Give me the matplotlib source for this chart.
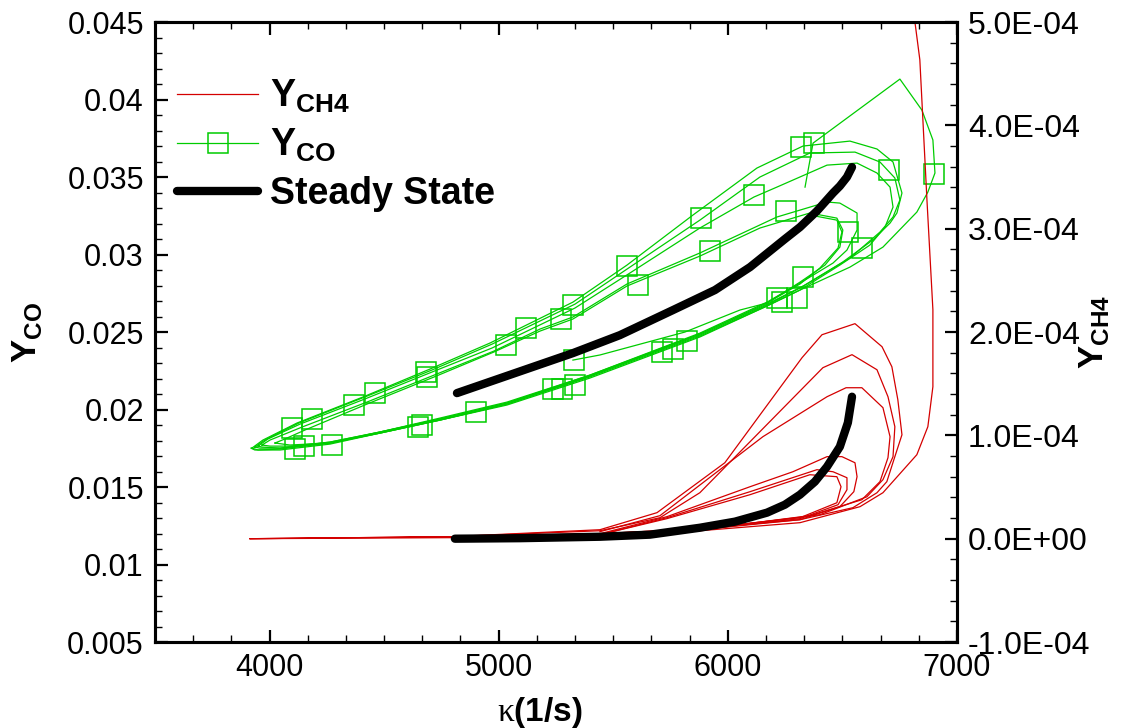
import matplotlib
matplotlib.use('Agg')
import matplotlib.pyplot as plt
from matplotlib.ticker import MultipleLocator, FuncFormatter
from matplotlib.lines import Line2D

# steady state branches (kappa in 1/s)
ss_k_co = [4818, 5071, 5324, 5529, 5761, 5944, 6097, 6249, 6315, 6389, 6459, 6489, 6520, 6542]
ss_co = [0.02106, 0.02235, 0.02364, 0.0248, 0.02642, 0.02771, 0.02919, 0.031, 0.03177, 0.03281, 0.03397, 0.03442, 0.035, 0.03564]
ss_k_ch4 = [4809, 5093, 5442, 5660, 5878, 6031, 6171, 6249, 6315, 6380, 6433, 6489, 6524, 6542]
ss_ch4 = [0.0, 5e-7, 1.9e-6, 3.9e-6, 1.06e-5, 1.65e-5, 2.52e-5, 3.29e-5, 4.26e-5, 5.52e-5, 6.97e-5, 8.9e-5, 1.123e-4, 1.374e-4]

# transient Y_CO, one list per cycle
co_k_g0 = [6337, 6372, 6751, 6847, 6895, 6904, 6873, 6825, 6677, 6533, 6315, 6171, 5878, 5398, 5036, 4744, 4482, 4264, 4046, 3936, 3919]
co_g0 = [0.03435, 0.03719, 0.04132, 0.03932, 0.03739, 0.03526, 0.03403, 0.03274, 0.03048, 0.02919, 0.02771, 0.02668, 0.02468, 0.02203, 0.02029, 0.01932, 0.01848, 0.01777, 0.01739, 0.01739, 0.01751]
co_k_a1 = [3923, 3971, 4120, 4408, 4700, 4962, 5324, 5560, 5848, 6127, 6328, 6533, 6651, 6721, 6760, 6738, 6708, 6633, 6502, 6315, 6171, 5878, 5398, 5036, 4744, 4482, 4264, 4046, 3950, 3923]
co_a1 = [0.01751, 0.01803, 0.01913, 0.02081, 0.02261, 0.02429, 0.02693, 0.02932, 0.03255, 0.03558, 0.0370, 0.03732, 0.03681, 0.03597, 0.03397, 0.03268, 0.03203, 0.03094, 0.02952, 0.02784, 0.02674, 0.0248, 0.02216, 0.02042, 0.01939, 0.01855, 0.01784, 0.01745, 0.01739, 0.01751]
co_k_a2 = [3936, 3980, 4128, 4416, 4709, 4971, 5333, 5573, 5878, 6140, 6358, 6555, 6664, 6729, 6751, 6721, 6664, 6533, 6337, 6171, 5878, 5398, 5036, 4744, 4482, 4264, 4046, 3958, 3936]
co_a2 = [0.01758, 0.01803, 0.01913, 0.02081, 0.02255, 0.02422, 0.0268, 0.02919, 0.03222, 0.035, 0.03655, 0.03661, 0.03597, 0.03494, 0.03352, 0.03242, 0.03145, 0.02977, 0.02803, 0.0268, 0.02487, 0.02222, 0.02048, 0.01945, 0.01855, 0.0179, 0.01751, 0.01751, 0.01758]
co_k_b = [3950, 3993, 4133, 4416, 4709, 4971, 5333, 5573, 5878, 6114, 6214, 6433, 6564, 6651, 6708, 6721, 6686, 6620, 6489, 6315, 6171, 5878, 5398, 5036, 4744, 4482, 4264, 4046, 3967, 3950]
co_b = [0.01764, 0.0181, 0.01906, 0.02068, 0.02242, 0.02397, 0.02655, 0.02881, 0.03171, 0.03371, 0.03435, 0.03577, 0.0359, 0.03526, 0.03435, 0.03306, 0.03177, 0.03061, 0.02932, 0.02771, 0.02668, 0.02474, 0.0221, 0.02035, 0.01932, 0.01848, 0.01784, 0.01751, 0.01758, 0.01764]
co_k_c1 = [3967, 4002, 4142, 4425, 4718, 4979, 5180, 5324, 5560, 5878, 6214, 6433, 6489, 6564, 6564, 6520, 6459, 6315, 6171, 5878, 5398, 5036, 4744, 4482, 4264, 4089, 4002, 3967]
co_c1 = [0.01771, 0.01803, 0.01887, 0.02048, 0.02222, 0.02377, 0.02519, 0.02597, 0.0281, 0.0301, 0.03242, 0.03339, 0.03332, 0.03268, 0.03158, 0.03029, 0.02945, 0.02816, 0.02693, 0.02493, 0.02222, 0.02042, 0.01939, 0.01855, 0.0179, 0.01764, 0.01764, 0.01771]
co_k_c2 = [4024, 4067, 4155, 4425, 4718, 4979, 5180, 5324, 5560, 5878, 6140, 6358, 6476, 6502, 6489, 6424, 6315, 6171, 5878, 5398, 5036, 4744, 4482, 4264, 4089, 4024]
co_c2 = [0.01784, 0.0181, 0.01868, 0.02035, 0.0221, 0.02371, 0.02506, 0.02584, 0.02797, 0.0299, 0.03171, 0.03268, 0.03235, 0.03158, 0.03048, 0.02932, 0.02822, 0.02687, 0.02487, 0.02216, 0.02035, 0.01932, 0.01848, 0.01784, 0.01771, 0.01784]
co_k_end = [6358, 6476, 6498, 6481, 6402, 6315, 6171, 6053, 5813, 5442, 5324]
co_end = [0.03255, 0.03222, 0.03145, 0.03042, 0.02913, 0.0281, 0.02687, 0.02642, 0.025, 0.02352, 0.02319]

# symbols drawn on the Y_CO curve
co_mk_k = [4098, 4185, 4368, 4460, 4683, 4687, 4111, 4150, 4272, 4648, 4665, 4901, 5032, 5119, 5272, 5324, 5560, 5608, 5883, 5922,
           5329, 5237, 5276, 5333, 5713, 5761, 5822, 6114, 6254, 6319, 6376, 6703, 6900, 6524, 6585, 6328, 6214, 6236, 6302]
co_mk = [0.01881, 0.01939, 0.02029, 0.02106, 0.02242, 0.0221, 0.01745, 0.01764, 0.01771, 0.01887, 0.019, 0.01984, 0.02416, 0.02526, 0.02584, 0.02674, 0.02926, 0.02803, 0.03235, 0.03023,
         0.02319, 0.02132, 0.02132, 0.02158, 0.02371, 0.0239, 0.02442, 0.03384, 0.03281, 0.03694, 0.03719, 0.03545, 0.03519, 0.03145, 0.03042, 0.02855, 0.02719, 0.02693, 0.02719]

# transient Y_CH4, one list per cycle
ch4_k_r0 = [6804, 6838, 6869, 6895, 6895, 6873, 6825, 6677, 6577, 6315, 5878, 5442, 4787, 3915]
ch4_r0 = [5.216e-4, 4.635e-4, 3.281e-4, 2.216e-4, 1.471e-4, 1.084e-4, 8.13e-5, 4.45e-5, 3.1e-5, 1.55e-5, 7.7e-6, 3.9e-6, 1.0e-6, 0.0]
ch4_k_r1 = [3915, 4787, 5442, 5691, 5987, 6324, 6411, 6555, 6673, 6716, 6742, 6760, 6729, 6694, 6651, 6546, 6315, 5878, 5442, 4787, 3915]
ch4_r1 = [0.0, 1.9e-6, 8.7e-6, 2.52e-5, 7.35e-5, 1.752e-4, 1.974e-4, 2.081e-4, 1.858e-4, 1.664e-4, 1.345e-4, 1.006e-4, 7.94e-5, 5.52e-5, 4.45e-5, 3.0e-5, 1.84e-5, 9.7e-6, 4.8e-6, 1.9e-6, 0.0]
ch4_k_r2 = [4787, 5442, 5704, 5878, 6415, 6542, 6651, 6699, 6729, 6721, 6677, 6607, 6402, 5878, 5442, 4787]
ch4_r2 = [1.9e-6, 7.7e-6, 2.03e-5, 4.45e-5, 1.655e-4, 1.781e-4, 1.635e-4, 1.374e-4, 1.084e-4, 7.94e-5, 5.71e-5, 4.06e-5, 2.32e-5, 8.7e-6, 4.8e-6, 1.9e-6]
ch4_k_r3 = [5442, 5704, 6153, 6433, 6516, 6585, 6677, 6708, 6699, 6664, 6585, 6358, 5878, 5442]
ch4_r3 = [6.8e-6, 2.23e-5, 9.87e-5, 1.374e-4, 1.461e-4, 1.461e-4, 1.268e-4, 9.87e-5, 7.84e-5, 5.52e-5, 3.77e-5, 2.23e-5, 8.7e-6, 4.8e-6]
ch4_k_i1 = [5442, 5734, 6097, 6284, 6433, 6498, 6555, 6564, 6550, 6489, 6315, 5878, 5442]
ch4_i1 = [4.8e-6, 2.13e-5, 5.03e-5, 6.48e-5, 7.94e-5, 7.94e-5, 7.35e-5, 6.0e-5, 4.55e-5, 3.1e-5, 1.84e-5, 8.7e-6, 4.8e-6]
ch4_k_i2 = [5442, 5734, 6097, 6389, 6459, 6520, 6520, 6481, 6315, 5878, 5442]
ch4_i2 = [3.9e-6, 2.03e-5, 4.55e-5, 6.68e-5, 6.48e-5, 5.9e-5, 4.74e-5, 3.29e-5, 1.94e-5, 8.7e-6, 3.9e-6]
ch4_k_i3 = [5442, 5734, 6097, 6358, 6476, 6494, 6476, 6315, 5878, 5442]
ch4_i3 = [3.9e-6, 1.94e-5, 4.26e-5, 6.19e-5, 6.0e-5, 5.03e-5, 3.48e-5, 2.03e-5, 9.7e-6, 4.8e-6]

RED = '#d40000'
GREEN = '#00cc00'

plt.rcParams['font.family'] = ['Liberation Sans', 'DejaVu Sans']
plt.rcParams['mathtext.fontset'] = 'custom'
plt.rcParams['mathtext.rm'] = 'Liberation Serif'
plt.rcParams['mathtext.bf'] = 'Liberation Sans:bold'

fig = plt.figure(figsize=(11.22, 7.28), dpi=100)
ax = fig.add_axes([0.1381, 0.1181, 0.7148, 0.8516])
ax2 = ax.twinx()

# Y_CO on the left axis
co_cycles = [(co_k_g0, co_g0), (co_k_a1, co_a1), (co_k_a2, co_a2), (co_k_b, co_b),
             (co_k_c1, co_c1), (co_k_c2, co_c2), (co_k_end, co_end)]
for k, y in co_cycles:
    ax.plot(k, y, color=GREEN, lw=0.9)
ax.plot(co_mk_k, co_mk, ls='none', marker='s', ms=14, mfc='none', mec=GREEN, mew=1.1)
ax.plot(ss_k_co, ss_co, color='k', lw=6, solid_capstyle='round', solid_joinstyle='round')

# Y_CH4 on the right axis
ch4_cycles = [(ch4_k_r0, ch4_r0), (ch4_k_r1, ch4_r1), (ch4_k_r2, ch4_r2), (ch4_k_r3, ch4_r3),
              (ch4_k_i1, ch4_i1), (ch4_k_i2, ch4_i2), (ch4_k_i3, ch4_i3)]
for k, y in ch4_cycles:
    ax2.plot(k, y, color=RED, lw=0.9)
ax2.plot(ss_k_ch4, ss_ch4, color='k', lw=6, solid_capstyle='round', solid_joinstyle='round')

ax.set_xlim(3500, 7000)
ax.set_ylim(0.005, 0.045)
ax2.set_ylim(-1e-4, 5e-4)

ax.xaxis.set_major_locator(MultipleLocator(1000))
ax.xaxis.set_minor_locator(MultipleLocator(1000 / 6))
ax.yaxis.set_major_locator(MultipleLocator(0.005))
ax.yaxis.set_minor_locator(MultipleLocator(0.001))
ax2.yaxis.set_major_locator(MultipleLocator(1e-4))
ax2.yaxis.set_minor_locator(MultipleLocator(2e-5))
ax.yaxis.set_major_formatter(FuncFormatter(lambda v, p: '%g' % round(v, 4)))
ax2.yaxis.set_major_formatter(FuncFormatter(lambda v, p: '%.1E' % (round(v * 1e4) / 1e4 + 0.0)))

for a in (ax, ax2):
    a.tick_params(which='major', direction='in', length=9, width=1.6, labelsize=22, pad=8)
    a.tick_params(which='minor', direction='in', length=5, width=1)
    for s in a.spines.values():
        s.set_linewidth(2.2)
ax.tick_params(which='both', top=True, right=False)
ax2.tick_params(axis='y', which='major', labelsize=23)

ax.set_xlabel(r'$\mathrm{\kappa}$(1/s)', fontsize=24, fontweight='bold')
ax.xaxis.set_label_coords(0.48, -0.085)
ax.set_ylabel(r'$\mathbf{Y}_{\mathbf{CO}}$', fontsize=25)
ax.yaxis.set_label_coords(-0.138, 0.5)
ax2.set_ylabel(r'$\mathbf{Y}_{\mathbf{CH4}}$', fontsize=25)
ax2.yaxis.set_label_coords(1.15, 0.5)

h_ch4 = Line2D([], [], color=RED, lw=0.9)
h_co = Line2D([], [], color=GREEN, lw=0.9, marker='s', ms=14, mfc='none', mec=GREEN, mew=1.1)
h_ss = Line2D([], [], color='k', lw=6, solid_capstyle='round')
ax2.legend([h_ch4, h_co, h_ss],
           [r'$\mathbf{Y}_{\mathbf{CH4}}$', r'$\mathbf{Y}_{\mathbf{CO}}$', 'Steady State'],
           loc='upper left', bbox_to_anchor=(0.028, 0.91), frameon=False,
           prop={'weight': 'bold', 'size': 27}, handlelength=2.16, handletextpad=0.3,
           labelspacing=0.32, borderaxespad=0, borderpad=0)

fig.savefig('out.png', dpi=100)
